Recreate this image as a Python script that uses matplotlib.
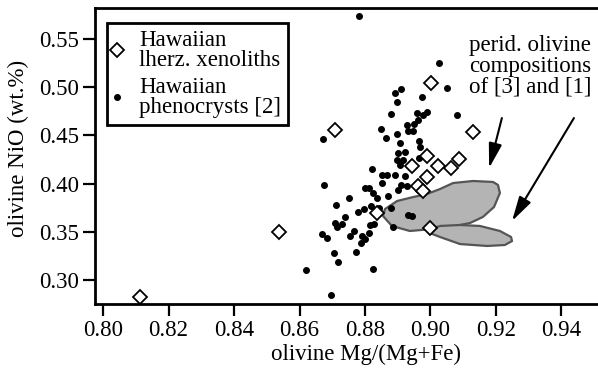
import matplotlib
matplotlib.use('Agg')
import matplotlib.pyplot as plt
from matplotlib.patches import Polygon
from matplotlib.lines import Line2D

plt.rcParams['font.family'] = ['Liberation Serif', 'DejaVu Serif']
plt.rcParams['font.size'] = 16.5

# Hawaiian lherzolite xenoliths (open diamonds)
xen_mg = [0.8113, 0.8537, 0.8708, 0.9002, 0.9130, 0.8989, 0.8943, 0.9023,
          0.9063, 0.9087, 0.8989, 0.8962, 0.8977, 0.8837, 0.8998]
xen_nio = [0.2830, 0.3499, 0.4553, 0.5041, 0.4534, 0.4285, 0.4182, 0.4182,
           0.4161, 0.4254, 0.4068, 0.3975, 0.3923, 0.3696, 0.3541]

# Hawaiian phenocrysts [2] (small dots)
pheno_mg = [0.8782, 0.9026, 0.9050, 0.8892, 0.8910, 0.8974, 0.8898, 0.8879,
            0.9081, 0.8959, 0.8977, 0.8989, 0.8962, 0.8928, 0.8950, 0.8931,
            0.8947, 0.8849, 0.8898, 0.8864, 0.8672, 0.8907, 0.8965, 0.8968,
            0.8901, 0.8922, 0.8898, 0.8916, 0.8907, 0.8821, 0.8852, 0.8867,
            0.8892, 0.8922, 0.8852, 0.8910, 0.8928, 0.8901, 0.8675, 0.8800,
            0.8812, 0.8824, 0.8751, 0.8837, 0.8870, 0.8879, 0.8711, 0.8779,
            0.8797, 0.8818, 0.8843, 0.8931, 0.8943, 0.8739, 0.8708, 0.8730,
            0.8715, 0.8815, 0.8827, 0.8885, 0.8669, 0.8684, 0.8766, 0.8754,
            0.8791, 0.8800, 0.8788, 0.8812, 0.8705, 0.8718, 0.8773, 0.8620,
            0.8824, 0.8696, 0.8965]
pheno_nio = [0.5733, 0.5247, 0.4989, 0.4937, 0.4978, 0.4896, 0.4844, 0.4720,
             0.4709, 0.4730, 0.4709, 0.4740, 0.4658, 0.4606, 0.4616, 0.4544,
             0.4544, 0.4565, 0.4513, 0.4472, 0.4461, 0.4420, 0.4441, 0.4378,
             0.4316, 0.4327, 0.4244, 0.4244, 0.4192, 0.4151, 0.4089, 0.4089,
             0.4089, 0.4079, 0.4006, 0.3986, 0.3975, 0.3934, 0.3986, 0.3954,
             0.3954, 0.3903, 0.3851, 0.3851, 0.3872, 0.3748, 0.3779, 0.3706,
             0.3737, 0.3768, 0.3748, 0.3675, 0.3665, 0.3655, 0.3593, 0.3582,
             0.3551, 0.3572, 0.3582, 0.3551, 0.3479, 0.3437, 0.3510, 0.3458,
             0.3458, 0.3427, 0.3386, 0.3489, 0.3282, 0.3189, 0.3293, 0.3107,
             0.3117, 0.2848, 0.4265]

# peridotite olivine fields of [3] (large) and [1] (small)
field3_mg = [0.8855, 0.8861, 0.8898, 0.8947, 0.8989, 0.9029, 0.9069, 0.9130,
             0.9191, 0.9206, 0.9212, 0.9194, 0.9160, 0.9121, 0.9075, 0.9029,
             0.9008, 0.8937, 0.8882]
field3_nio = [0.3665, 0.3737, 0.3820, 0.3861, 0.3892, 0.3944, 0.4006, 0.4027,
              0.4017, 0.3986, 0.3903, 0.3758, 0.3655, 0.3593, 0.3562, 0.3541,
              0.3531, 0.3510, 0.3562]
field1_mg = [0.8992, 0.9029, 0.9090, 0.9151, 0.9212, 0.9246, 0.9249, 0.9227,
             0.9173, 0.9090, 0.9029, 0.8998]
field1_nio = [0.3520, 0.3562, 0.3572, 0.3562, 0.3510, 0.3448, 0.3406, 0.3365,
              0.3355, 0.3375, 0.3448, 0.3489]

fig = plt.figure(figsize=(5.98, 3.68), dpi=100)
ax = fig.add_axes([0.1589, 0.1739, 0.8411, 0.8057])

for fx, fy in [(field3_mg, field3_nio), (field1_mg, field1_nio)]:
    ax.add_patch(Polygon(list(zip(fx, fy)), closed=True, facecolor='#b4b4b4',
                         edgecolor='#555555', linewidth=1.6, joinstyle='round',
                         zorder=1))

ax.plot(pheno_mg, pheno_nio, 'o', color='black', markersize=4, zorder=2)
ax.plot(xen_mg, xen_nio, 'D', markerfacecolor='white', markeredgecolor='black',
        markersize=7.5, markeredgewidth=1.3, zorder=3)

ax.text(0.9304, 0.5216, 'perid. olivine\ncompositions\nof [3] and [1]',
        ha='center', va='center', linespacing=1.0)
arrow = dict(arrowstyle='-|>,head_length=0.75,head_width=0.2', color='black',
             lw=1.5, mutation_scale=20, shrinkA=0, shrinkB=0)
ax.annotate('', xy=(0.9179, 0.4161), xytext=(0.9218, 0.4678), arrowprops=arrow)
ax.annotate('', xy=(0.9249, 0.3613), xytext=(0.9438, 0.4678), arrowprops=arrow)

ax.set_xlim(0.79756, 0.95115)
ax.set_ylim(0.27549, 0.58211)
ax.set_xticks([0.80, 0.82, 0.84, 0.86, 0.88, 0.90, 0.92, 0.94])
ax.set_yticks([0.30, 0.35, 0.40, 0.45, 0.50, 0.55])
ax.set_xticklabels(['%.2f' % v for v in ax.get_xticks()])
ax.set_yticklabels(['%.2f' % v for v in ax.get_yticks()])
ax.tick_params(direction='out', length=8.5, width=1.6, pad=3)
ax.spines['right'].set_visible(False)
for s in ['left', 'top', 'bottom']:
    ax.spines[s].set_linewidth(2)

ax.set_xlabel('olivine Mg/(Mg+Fe)')
ax.xaxis.set_label_coords(0.539, -0.135)
ax.set_ylabel('olivine NiO (wt.%)', va='center')
ax.yaxis.set_label_coords(-0.153, 0.523)

handles = [
    Line2D([], [], linestyle='none', marker='D', markerfacecolor='white',
           markeredgecolor='black', markersize=7.5, markeredgewidth=1.3),
    Line2D([], [], linestyle='none', marker='o', color='black', markersize=4),
]
leg = ax.legend(handles, ['Hawaiian\nlherz. xenoliths', 'Hawaiian\nphenocrysts [2]'],
                loc='upper left', bbox_to_anchor=(0.024, 0.948), borderaxespad=0,
                frameon=True, fancybox=False, framealpha=1, edgecolor='black',
                handlelength=0.3, handletextpad=0.8, borderpad=0.3,
                labelspacing=0.25, numpoints=1)
leg.get_frame().set_linewidth(2)
for t in leg.get_texts():
    t.set_linespacing(0.95)

plt.savefig('out.png', dpi=100)
